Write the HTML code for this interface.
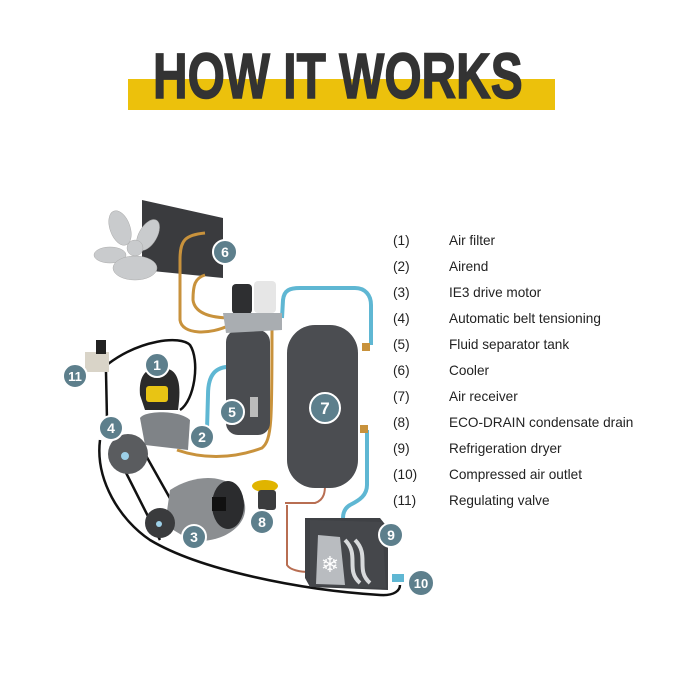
<!DOCTYPE html>
<html><head><meta charset="utf-8"><style>
body{margin:0;background:#fff;width:700px;height:700px;overflow:hidden;position:relative;font-family:"Liberation Sans",sans-serif}
.bar{position:absolute;left:128px;top:79px;width:427px;height:31px;background:#ecc10c}
.title{position:absolute;left:153px;top:44px;font:bold 64px "Liberation Sans",sans-serif;color:#333;letter-spacing:0px;white-space:nowrap;transform-origin:0 0;transform:scaleX(0.748);line-height:64px;-webkit-text-stroke:1.5px #333}
</style></head><body>
<div class="bar"></div>
<div class="title">HOW IT WORKS</div>
<svg width="700" height="700" style="position:absolute;left:0;top:0">
<g font-family="Liberation Sans" font-size="13.6" fill="#222">
<text x="393" y="245">(1)</text><text x="449" y="245">Air filter</text>
<text x="393" y="271">(2)</text><text x="449" y="271">Airend</text>
<text x="393" y="297">(3)</text><text x="449" y="297">IE3 drive motor</text>
<text x="393" y="323">(4)</text><text x="449" y="323">Automatic belt tensioning</text>
<text x="393" y="349">(5)</text><text x="449" y="349">Fluid separator tank</text>
<text x="393" y="375">(6)</text><text x="449" y="375">Cooler</text>
<text x="393" y="401">(7)</text><text x="449" y="401">Air receiver</text>
<text x="393" y="427">(8)</text><text x="449" y="427">ECO-DRAIN condensate drain</text>
<text x="393" y="453">(9)</text><text x="449" y="453">Refrigeration dryer</text>
<text x="393" y="479">(10)</text><text x="449" y="479">Compressed air outlet</text>
<text x="393" y="505">(11)</text><text x="449" y="505">Regulating valve</text>
</g>
<g fill="none" stroke="#111" stroke-width="2.5">
<path d="M108,364 C140,340 180,335 190,345 C200,360 195,400 180,410"/>
<path d="M106,372 L107,420"/>
<path d="M100,440 C95,480 120,520 150,540 C200,570 300,590 380,595 C395,596 400,590 400,585"/>
<path d="M112,445 L160,540 M140,445 L185,525"/>
</g>
<polygon points="142,200 223,218 223,278 142,270" fill="#3a3b3e"/>
<g fill="#c9cbcd" stroke="#aaa" stroke-width="0.5">
<ellipse cx="120" cy="228" rx="10" ry="18" transform="rotate(-20 120 228)"/>
<ellipse cx="148" cy="235" rx="9" ry="17" transform="rotate(30 148 235)"/>
<ellipse cx="110" cy="255" rx="16" ry="8"/>
<ellipse cx="135" cy="268" rx="22" ry="12"/>
<circle cx="135" cy="248" r="8"/>
</g>
<g fill="none" stroke="#c8923c" stroke-width="3">
<path d="M205,233 C185,235 180,240 180,260 L180,320 C182,335 210,335 230,325"/>
<path d="M205,275 C195,278 193,285 193,300 C195,315 215,318 232,318"/>
<path d="M177,450 C200,458 230,460 262,448 C272,440 272,420 272,330"/>
<path d="M248,340 L248,430"/>
</g>
<g fill="none" stroke="#5fb7d3" stroke-width="4">
<path d="M282,318 L283,300 C284,290 290,288 300,288 L355,288 C365,288 371,295 371,305 L371,345"/>
<path d="M367,430 L367,485 C367,495 360,500 350,505 C345,508 343,512 343,518"/>
<path d="M235,367 C215,365 208,375 208,395 L207,430"/>
</g>
<g fill="none" stroke="#b86e52" stroke-width="2">
<path d="M285,503 L315,503 C325,500 325,490 325,485"/>
<path d="M287,505 L287,565 C290,570 300,572 310,572"/>
</g>
<rect x="226" y="330" width="44" height="105" rx="12" fill="#4a4c50"/>
<rect x="232" y="284" width="20" height="30" rx="4" fill="#2e2f31"/>
<rect x="254" y="281" width="22" height="32" rx="4" fill="#e6e6e6"/>
<polygon points="223,313 282,313 282,330 226,333" fill="#a9adb1"/>
<rect x="250" y="397" width="8" height="20" fill="#bbb"/>
<rect x="287" y="325" width="71" height="163" rx="28" fill="#4b4d51"/>
<rect x="362" y="343" width="8" height="8" fill="#c8923c"/>
<rect x="360" y="425" width="8" height="8" fill="#c8923c"/>
<path d="M140,395 C138,372 150,366 162,368 C178,368 182,382 178,410 L145,410 Z" fill="#2a2a2a"/>
<rect x="146" y="386" width="22" height="16" rx="3" fill="#e8c414"/>
<path d="M140,418 C145,410 180,410 190,420 L188,450 L145,445 Z" fill="#7f8387"/>
<ellipse cx="128" cy="454" rx="20" ry="20" fill="#5a5c5f"/>
<circle cx="125" cy="456" r="4" fill="#9dd0e8"/>
<path d="M170,490 C200,470 240,475 245,505 C248,530 215,545 190,540 L165,525 Z" fill="#8b8e91"/>
<ellipse cx="228" cy="505" rx="16" ry="24" fill="#2b2c2e"/>
<rect x="212" y="497" width="14" height="14" fill="#111"/>
<circle cx="160" cy="523" r="15" fill="#3a3b3d"/>
<circle cx="159" cy="524" r="3" fill="#9dd0e8"/>
<rect x="85" y="352" width="24" height="20" fill="#d9d4c8"/>
<rect x="96" y="340" width="10" height="14" fill="#222"/>
<ellipse cx="265" cy="486" rx="13" ry="6" fill="#e0b400"/>
<rect x="258" y="490" width="18" height="20" rx="3" fill="#3b3c3e"/>
<polygon points="305,518 380,518 388,528 388,590 310,587 305,578" fill="#3f4145"/>
<polygon points="310,520 382,522 386,588 310,586" fill="#45474b"/>
<polygon points="318,535 340,537 345,585 316,584" fill="#b9bcc0"/>
<text x="330" y="572" font-size="22" fill="#fff" text-anchor="middle">❄</text>
<path d="M345,540 C360,555 345,570 360,583 M355,540 C370,555 355,570 370,583" stroke="#d8dadc" stroke-width="4" fill="none"/>
<rect x="392" y="574" width="12" height="8" fill="#5fb7d3"/>
<g font-family="Liberation Sans" font-weight="bold" fill="#fff" text-anchor="middle">
<g stroke="#fff" stroke-width="2" fill="#5d7f8c">
<circle cx="157" cy="365" r="12"/><circle cx="202" cy="437" r="12"/><circle cx="194" cy="537" r="12"/>
<circle cx="111" cy="428" r="12"/><circle cx="232" cy="412" r="12"/><circle cx="225" cy="252" r="12"/>
<circle cx="325" cy="408" r="15"/><circle cx="262" cy="522" r="12"/><circle cx="391" cy="535" r="12"/>
<circle cx="421" cy="583" r="13"/><circle cx="75" cy="376" r="12"/>
</g>
<text x="157" y="370" font-size="14">1</text><text x="202" y="442" font-size="14">2</text><text x="194" y="542" font-size="14">3</text>
<text x="111" y="433" font-size="14">4</text><text x="232" y="417" font-size="14">5</text><text x="225" y="257" font-size="14">6</text>
<text x="325" y="414" font-size="17">7</text><text x="262" y="527" font-size="14">8</text><text x="391" y="540" font-size="14">9</text>
<text x="421" y="588" font-size="13">10</text><text x="75" y="381" font-size="13">11</text>
</g>
</svg>
</body></html>
